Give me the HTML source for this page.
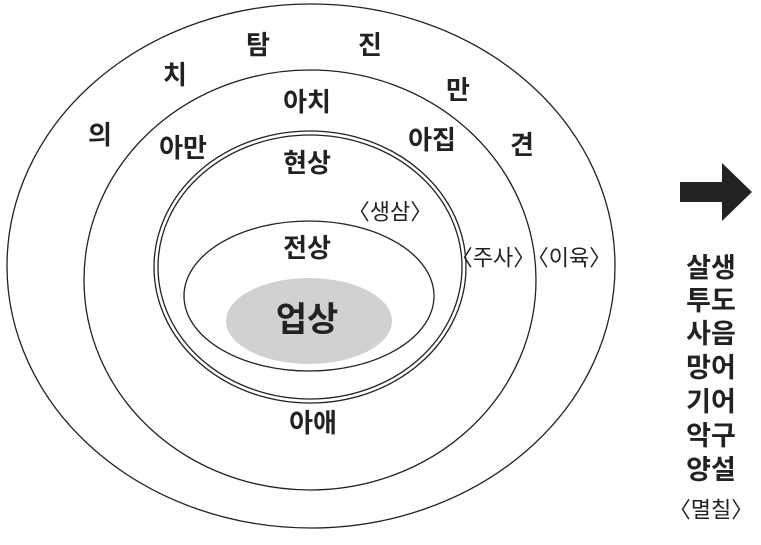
<!DOCTYPE html>
<html><head><meta charset="utf-8"><style>
html,body{margin:0;padding:0;background:#fff;}
svg text{font-family:"Liberation Sans","Noto Sans CJK KR",sans-serif;fill:#222;text-anchor:middle;dominant-baseline:central;}
.b{font-size:27px;font-weight:bold;}
.m{font-size:26px;font-weight:bold;}
.s{font-size:22px;}
</style></head><body>
<svg width="761" height="540" viewBox="0 0 761 540" xmlns="http://www.w3.org/2000/svg">
<g fill="none" stroke="#222" stroke-width="1.3">
<ellipse cx="311" cy="266" rx="304" ry="262"/>
<ellipse cx="310" cy="280" rx="226" ry="210"/>
<ellipse cx="310" cy="267" rx="156" ry="136"/>
<ellipse cx="310" cy="267" rx="152" ry="132"/>
<ellipse cx="309" cy="296" rx="125" ry="75"/>
</g>
<ellipse cx="309" cy="321" rx="83" ry="43" fill="#d1d1d3"/>
<text class="m" x="258" y="45">탐</text>
<text class="m" x="370" y="45">진</text>
<text class="m" x="175" y="75">치</text>
<text class="m" x="458" y="90">만</text>
<text class="m" x="100" y="135">의</text>
<text class="m" x="522" y="145">견</text>
<text class="m" x="307" y="102">아치</text>
<text class="m" x="183" y="148">아만</text>
<text class="m" x="432" y="140">아집</text>
<text class="m" x="307" y="163">현상</text>
<text class="s" x="390" y="212">〈생삼〉</text>
<text class="m" x="307" y="248">전상</text>
<text class="m" x="307" y="320" style="font-size:34px">업상</text>
<text class="s" x="493" y="258">〈주사〉</text>
<text class="s" x="569" y="258">〈이육〉</text>
<text class="m" x="313" y="423">아애</text>
<polygon points="680,182 722,182 722,163 752,192 722,221 722,202 680,202" fill="#222"/>
<text class="b" x="711" y="268">살생</text>
<text class="b" x="711" y="301">투도</text>
<text class="b" x="711" y="334">사음</text>
<text class="b" x="711" y="368">망어</text>
<text class="b" x="711" y="402">기어</text>
<text class="b" x="711" y="436">악구</text>
<text class="b" x="711" y="470">양설</text>
<text class="s" x="711" y="510">〈멸칠〉</text>
</svg>
</body></html>
